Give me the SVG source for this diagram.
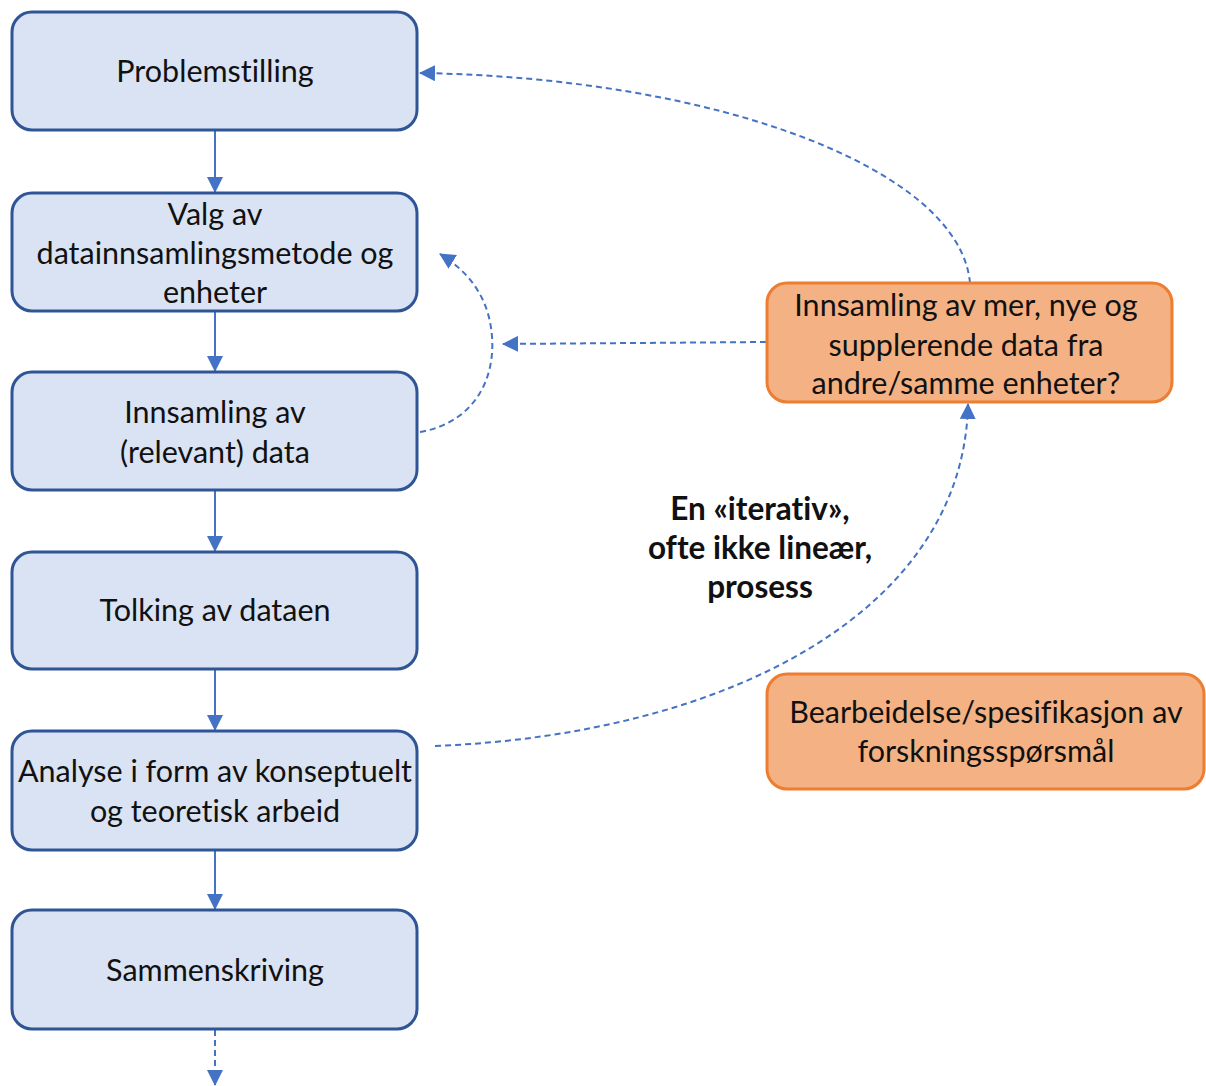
<svg xmlns="http://www.w3.org/2000/svg" width="1206" height="1086" viewBox="0 0 1206 1086">
  <style>
    .step rect { fill: #DAE3F3; stroke: #2F5597; stroke-width: 3; }
    .note rect { fill: #F4B183; stroke: #ED7D31; stroke-width: 3; }
    text { font-family: Lato, "Open Sans", "Liberation Sans", sans-serif; font-size: 30.5px; fill: #111; text-anchor: middle; font-variant-ligatures: none; }
    .bold { font-weight: bold; font-size: 31.5px; }
    .flow { stroke: #4472C4; stroke-width: 2; fill: none; }
    .dash { stroke: #4472C4; stroke-width: 2; fill: none; stroke-dasharray: 6 4; }
  </style>
  <defs>
    <marker id="arrow" viewBox="0 0 16 16" refX="15" refY="8" markerWidth="16" markerHeight="16" markerUnits="userSpaceOnUse" orient="auto">
      <path d="M0,0 L16,8 L0,16 Z" fill="#4472C4"/>
    </marker>
  </defs>

  <rect width="1206" height="1086" fill="#ffffff"/>

  <!-- connectors -->
  <g id="connectors">
    <line class="flow" x1="215" y1="131" x2="215" y2="192" marker-end="url(#arrow)"/>
    <line class="flow" x1="215" y1="312" x2="215" y2="371" marker-end="url(#arrow)"/>
    <line class="flow" x1="215" y1="491" x2="215" y2="551" marker-end="url(#arrow)"/>
    <line class="flow" x1="215" y1="670" x2="215" y2="730" marker-end="url(#arrow)"/>
    <line class="flow" x1="215" y1="851" x2="215" y2="909" marker-end="url(#arrow)"/>
    <line class="dash" x1="215" y1="1030" x2="215" y2="1085" marker-end="url(#arrow)"/>
    <!-- feedback loops -->
    <path class="dash" d="M970,283 C960,170 720,78 420,73" marker-end="url(#arrow)"/>
    <line class="dash" x1="766" y1="342" x2="503" y2="344" marker-end="url(#arrow)"/>
    <path class="dash" d="M420,432 C478,422 500,372 490,322 C484,292 466,270 440,254" marker-end="url(#arrow)"/>
    <path class="dash" d="M435,746 C730,734 964,610 968,404" marker-end="url(#arrow)"/>
  </g>

  <!-- main process steps -->
  <g id="problemstilling" class="step">
    <rect x="12" y="12" width="405" height="118" rx="20"/>
    <text x="215" y="82">Problemstilling</text>
  </g>
  <g id="valg" class="step">
    <rect x="12" y="193" width="405" height="118" rx="20"/>
    <text x="215" y="225">Valg av</text>
    <text x="215" y="264">datainnsamlingsmetode og</text>
    <text x="215" y="303">enheter</text>
  </g>
  <g id="innsamling" class="step">
    <rect x="12" y="372" width="405" height="118" rx="20"/>
    <text x="215" y="423">Innsamling av</text>
    <text x="215" y="463">(relevant) data</text>
  </g>
  <g id="tolking" class="step">
    <rect x="12" y="552" width="405" height="117" rx="20"/>
    <text x="215" y="621">Tolking av dataen</text>
  </g>
  <g id="analyse" class="step">
    <rect x="12" y="731" width="405" height="119" rx="20"/>
    <text x="215" y="782">Analyse i form av konseptuelt</text>
    <text x="215" y="822">og teoretisk arbeid</text>
  </g>
  <g id="sammenskriving" class="step">
    <rect x="12" y="910" width="405" height="119" rx="20"/>
    <text x="215" y="981">Sammenskriving</text>
  </g>

  <!-- side notes -->
  <g id="mer-data" class="note">
    <rect x="767" y="283" width="405" height="119" rx="20"/>
    <text x="966" y="316">Innsamling av mer, nye og</text>
    <text x="966" y="356">supplerende data fra</text>
    <text x="966" y="394">andre/samme enheter?</text>
  </g>
  <g id="bearbeidelse" class="note">
    <rect x="767" y="674" width="437" height="115" rx="20"/>
    <text x="986" y="723">Bearbeidelse/spesifikasjon av</text>
    <text x="986" y="762">forskningsspørsmål</text>
  </g>

  <g id="label">
    <text class="bold" x="760" y="520">En «iterativ»,</text>
    <text class="bold" x="760" y="559">ofte ikke lineær,</text>
    <text class="bold" x="760" y="598">prosess</text>
  </g>
</svg>
